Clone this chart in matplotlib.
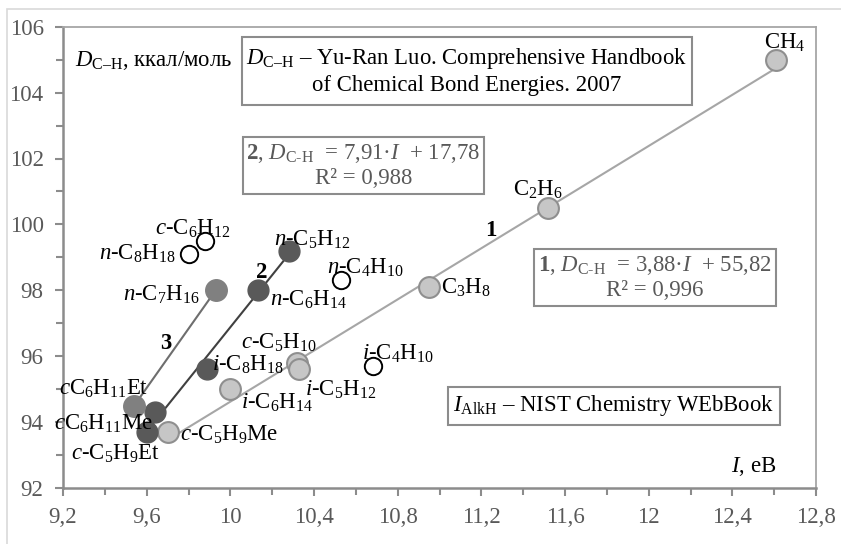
import matplotlib.pyplot as plt
from matplotlib.patches import Rectangle
from matplotlib.ticker import MultipleLocator, FuncFormatter

plt.rcParams['font.family'] = 'Liberation Serif'
plt.rcParams['mathtext.fontset'] = 'custom'
plt.rcParams['mathtext.rm'] = 'Liberation Serif'
plt.rcParams['mathtext.it'] = 'Liberation Serif:italic'
plt.rcParams['mathtext.bf'] = 'Liberation Serif:bold'

# series 1 (light gray)
names1 = ['CH$_4$', 'C$_2$H$_6$', 'C$_3$H$_8$', '$c$-C$_5$H$_{10}$', '$i$-C$_5$H$_{12}$',
          '$i$-C$_6$H$_{14}$', '$c$-C$_5$H$_9$Me']
I1 = [12.61, 11.52, 10.95, 10.32, 10.33, 10.00, 9.70]
D1 = [105.0, 100.5, 98.1, 95.8, 95.6, 95.0, 93.7]

# series 2 (dark gray)
names2 = ['$n$-C$_5$H$_{12}$', '$n$-C$_6$H$_{14}$', '$i$-C$_8$H$_{18}$',
          '$c$C$_6$H$_{11}$Me', '$c$-C$_5$H$_9$Et']
I2 = [10.28, 10.13, 9.89, 9.64, 9.60]
D2 = [99.2, 98.0, 95.6, 94.3, 93.7]

# series 3 (medium gray)
names3 = ['$n$-C$_7$H$_{16}$', '$c$C$_6$H$_{11}$Et']
I3 = [9.93, 9.54]
D3 = [98.0, 94.5]

# excluded points (open circles)
names0 = ['$n$-C$_8$H$_{18}$', '$c$-C$_6$H$_{12}$', '$n$-C$_4$H$_{10}$', '$i$-C$_4$H$_{10}$']
I0 = [9.80, 9.88, 10.53, 10.68]
D0 = [99.1, 99.5, 98.3, 95.7]

# fits
k1, b1 = 3.88, 55.82
k2, b2 = 7.91, 17.78

W, H = 841, 544
FS = 16.4
fig = plt.figure(figsize=(W / 100, H / 100), dpi=100)
ax = fig.add_axes([63 / W, 1 - 488 / H, (816 - 63) / W, (488 - 26.7) / H])

# trend lines
x1 = [min(I1), max(I1)]
ax.plot(x1, [k1 * x + b1 for x in x1], color='#a6a6a6', lw=1.5, zorder=2)
x2 = [min(I2), max(I2)]
ax.plot(x2, [k2 * x + b2 for x in x2], color='#404040', lw=1.5, zorder=2)
ax.plot(I3, D3, color='#6e6e6e', lw=1.5, zorder=2)

ax.plot(I1, D1, 'o', ms=15, mfc='#c6c6c6', mec='#8f8f8f', mew=1.5, zorder=3)
ax.plot(I2, D2, 'o', ms=15, mfc='#595959', mec='#595959', zorder=3)
ax.plot(I3, D3, 'o', ms=15.5, mfc='#808080', mec='#808080', zorder=3)
ax.plot(I0, D0, 'o', ms=12.5, mfc='white', mec='black', mew=1.4, zorder=3)

# label offsets in pixels (dx, dy, ha)
off1 = [(8, 17, 'center'), (-10, 18, 'center'), (12, -1, 'left'), (-19, 20, 'center'),
        (6, -20, 'left'), (11, -14, 'left'), (12, -3, 'left')]
off2 = [(23, 11, 'center'), (12, -10, 'left'), (5, 5, 'left'), (-52, -12, 'center'),
        (-31, -22, 'center')]
off3 = [(-16, -5, 'right'), (-31, 17, 'center')]
off0 = [(-13, 0, 'right'), (-13, 12, 'center'), (24, 13, 'center'), (25, 12, 'center')]

for names, xs, ys, offs in [(names1, I1, D1, off1), (names2, I2, D2, off2),
                             (names3, I3, D3, off3), (names0, I0, D0, off0)]:
    for n, x, y, (dx, dy, ha) in zip(names, xs, ys, offs):
        ax.annotate(n, (x, y), xytext=(dx, dy), textcoords='offset pixels',
                    ha=ha, va='center', fontsize=FS, zorder=4)

# line numbers
ax.text(11.245, 99.83, '1', fontsize=FS, fontweight='bold', ha='center', va='center')
ax.text(10.15, 98.55, '2', fontsize=FS, fontweight='bold', ha='center', va='center')
ax.text(9.69, 96.4, '3', fontsize=FS, fontweight='bold', ha='center', va='center')

ax.set_xlim(9.2, 12.8)
ax.set_ylim(92, 106)
ax.xaxis.set_major_locator(MultipleLocator(0.4))
ax.xaxis.set_minor_locator(MultipleLocator(0.2))
ax.yaxis.set_major_locator(MultipleLocator(2))
ax.yaxis.set_minor_locator(MultipleLocator(1))
ax.xaxis.set_major_formatter(FuncFormatter(lambda v, p: ('%g' % round(v, 1)).replace('.', ',')))
ax.yaxis.set_major_formatter(FuncFormatter(lambda v, p: '%g' % v))
ax.tick_params(which='both', direction='out', color='#8c8c8c', width=1.5, labelcolor='#595959',
               labelsize=16.5)
ax.tick_params(which='major', length=6, pad=8)
ax.tick_params(which='minor', length=5)
for s in ['left', 'bottom']:
    ax.spines[s].set_color('#8c8c8c')
    ax.spines[s].set_linewidth(1.8)
for s in ['top', 'right']:
    ax.spines[s].set_color('#a6a6a6')
    ax.spines[s].set_linewidth(1.3)


def box(x0, y0, x1, y1, txt, color='black'):
    fig.patches.append(Rectangle((x0 / W, 1 - y1 / H), (x1 - x0) / W, (y1 - y0) / H,
                                 transform=fig.transFigure, fill=True, fc='white',
                                 ec='#8c8c8c', lw=1.5, zorder=5))
    fig.text((x0 + x1) / 2 / W, 1 - (y0 + y1) / 2 / H, txt, ha='center', va='center',
             multialignment='center', fontsize=FS, color=color, zorder=6)


box(242, 37, 692, 105,
    '$D_{\\mathrm{C–H}}$ – Yu-Ran Luo. Comprehensive Handbook\nof Chemical Bond Energies. 2007')
box(243, 137, 484, 194,
    '$\\mathbf{2}$, $D_{\\mathrm{C\u2010H}}$  = 7,91·$I$  + 17,78\nR² = 0,988', '#595959')
box(534, 249, 776, 306,
    '$\\mathbf{1}$, $D_{\\mathrm{C\u2010H}}$  = 3,88·$I$  + 55,82\nR² = 0,996', '#595959')
box(448, 387, 780, 425, '$I_{\\mathrm{AlkH}}$ – NIST Chemistry WEbBook')

fig.text(75 / W, 1 - 60 / H, '$D_{\\mathrm{C–H}}$, ккал/моль', ha='left', va='center',
         fontsize=FS)
fig.text(776 / W, 1 - 467 / H, '$I$, eB', ha='right', va='center', fontsize=FS)

# outer chart border (only left and top edges are inside the picture)
fig.patches.append(Rectangle((7 / W, -0.1), 2, 1.1 - 9 / H, transform=fig.transFigure,
                             fill=False, ec='#d9d9d9', lw=1.2))

fig.savefig('out.png', dpi=100)
